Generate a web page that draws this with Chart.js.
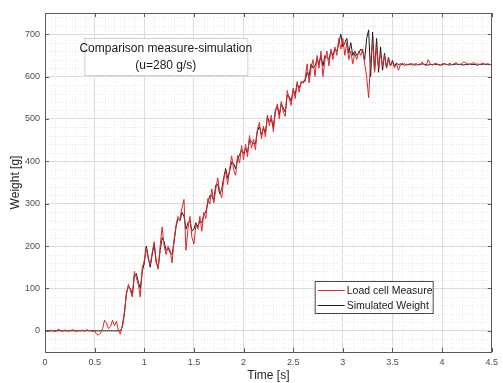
<!DOCTYPE html>
<html>
<head>
<meta charset="utf-8">
<script src="https://cdn.jsdelivr.net/npm/chart.js@4.4.1/dist/chart.umd.min.js"></script>
<style>
html,body{margin:0;padding:0;background:#fff;}
canvas{display:block;}
</style>
</head>
<body>
<canvas id="c" width="503" height="383"></canvas>
<script>
// ---- data ----
const sampleStep = 0.02; // s between samples
const measured = [
 0,1,-1,2,0,-2,1,4,0,-1,2,0,-1,1,3,0,-2,1,0,2,-1,3,0,1,-2,0,
 -8,-10,-5,5,25,18,5,10,25,12,22,0,-8,15,45,
 85,110,95,80,140,125,110,80,150,165,195,170,155,185,210,165,145,200,245,200,
 180,200,190,160,215,250,270,265,290,310,190,240,270,220,205,250,240,270,235,280,
 265,312,299,335,302,334,361,328,314,356,378,345,382,413,380,367,414,396,437,404,
 440,411,461,431,452,427,477,492,453,483,458,509,484,509,470,515,535,500,541,516,
 506,567,547,532,573,548,588,563,589,584,594,630,585,620,640,600,650,620,660,600,
 640,660,625,665,640,670,650,690,665,690,650,680,640,660,630,655,640,660,650,665,
 630,600,550,640,680,610,670,620,655,625,650,620,640,625,635,620,630,615,628,632,
 625,630,627,632,626, 629,631,627,630,634, 628,626,640,630,627, 629,632,628,626,630,
 631,628,629,632,627, 630,633,629,628,631, 635,632,630,628,631, 633,629,630,628,632,
 630,629,631,628,630
];
const simulated = [
 0,0,0,0,0,0,0,0,0,0,0,0,0,0,0,0,0,0,0,0,0,0,0,0,0,0,0,0,0,0,0,0,0,0,0,0,0,0,0,
 10,40,
 90,105,100,85,130,135,115,100,140,160,200,175,150,180,205,160,150,190,220,210,
 190,195,185,180,210,245,265,260,280,270,240,255,260,235,240,255,245,260,255,275,
 280,302,319,320,307,344,346,323,334,361,383,360,377,398,395,382,404,416,427,419,
 430,421,451,446,442,442,472,482,463,478,468,504,494,499,480,520,530,510,536,526,
 516,557,552,542,568,558,583,573,584,589,589,610,600,630,620,625,640,630,650,625,
 650,645,640,660,650,665,660,680,700,670,680,690,655,680,650,660,650,655,665,660,
 640,690,710,600,705,615,690,610,670,615,655,620,645,625,638,625,632,628,630,628,
 630,627,629,628,630, 628,627,629,628,630, 629,628,627,629,628, 630,628,629,627,628,
 630,629,628,627,629, 628,630,628,629,628, 627,629,628,630,628, 629,628,627,629,628,
 630,628,629,628,629
];
const time = measured.map((_, i) => +(i * sampleStep).toFixed(2));
const xTicks = [0, 0.5, 1, 1.5, 2, 2.5, 3, 3.5, 4, 4.5];
const yTicks = [0, 100, 200, 300, 400, 500, 600, 700];
const seriesNames = ['Load cell Measure', 'Simulated Weight'];
const titleLines = ['Comparison measure-simulation', '(u=280 g/s)'];
const xLabel = 'Time [s]';
const yLabel = 'Weight [g]';

const FONT = '"Liberation Sans", Arial, Helvetica, sans-serif';
const RED = '#e3262a';
const BLACK = '#1c1c1c';

const decor = {
  id: 'decor',
  beforeDatasetsDraw(chart) {
    const {ctx, chartArea: a, scales: {x, y}} = chart;
    ctx.save();
    ctx.strokeStyle = '#e6e6e6';
    ctx.lineWidth = 1;
    ctx.setLineDash([1, 2]);
    for (let v = 0; v <= 45; v++) {
      if (v % 5 === 0) continue;
      const px = Math.round(x.getPixelForValue(v / 10)) + 0.5;
      ctx.beginPath(); ctx.moveTo(px, a.top); ctx.lineTo(px, a.bottom); ctx.stroke();
    }
    for (let v = -40; v <= 740; v += 20) {
      if (v % 100 === 0) continue;
      const py = Math.round(y.getPixelForValue(v)) + 0.5;
      ctx.beginPath(); ctx.moveTo(a.left, py); ctx.lineTo(a.right, py); ctx.stroke();
    }
    ctx.restore();
  },
  afterDatasetsDraw(chart) {
    const {ctx, chartArea: a, scales: {x, y}} = chart;
    ctx.save();
    // box
    ctx.strokeStyle = '#5a5a5a';
    ctx.lineWidth = 1;
    ctx.strokeRect(Math.round(a.left) + 0.5, Math.round(a.top) + 0.5, Math.round(a.right - a.left) - 1, Math.round(a.bottom - a.top));
    // inner ticks
    ctx.beginPath();
    xTicks.forEach(v => {
      const px = Math.round(x.getPixelForValue(v)) + 0.5;
      ctx.moveTo(px, a.bottom); ctx.lineTo(px, a.bottom - 4);
      ctx.moveTo(px, a.top); ctx.lineTo(px, a.top + 4);
    });
    yTicks.forEach(v => {
      const py = Math.round(y.getPixelForValue(v)) + 0.5;
      ctx.moveTo(a.left, py); ctx.lineTo(a.left + 4, py);
      ctx.moveTo(a.right, py); ctx.lineTo(a.right - 4, py);
    });
    ctx.stroke();

    // annotation text box
    const bx = a.left + (a.right - a.left) * 0.088, by = a.top + 25;
    const bw = 163, bh = 37;
    ctx.fillStyle = '#ffffff';
    ctx.fillRect(bx, by, bw, bh);
    ctx.strokeStyle = '#d0d0d0';
    ctx.strokeRect(bx + 0.5, by + 0.5, bw, bh);
    ctx.fillStyle = '#1a1a1a';
    ctx.font = '12px ' + FONT;
    ctx.textAlign = 'center';
    ctx.textBaseline = 'middle';
    ctx.fillText(titleLines[0], bx + bw / 2, by + 11);
    ctx.fillText(titleLines[1], bx + bw / 2, by + 28);

    // legend
    const lx = a.left + (a.right - a.left) * 0.597 + 3, ly = a.top + 268;
    const lw = 118, lh = 32;
    ctx.fillStyle = '#ffffff';
    ctx.fillRect(lx, ly, lw, lh);
    ctx.strokeStyle = '#4a4a4a';
    ctx.strokeRect(lx + 0.5, ly + 0.5, lw, lh);
    const colors = [RED, BLACK];
    ctx.font = '10.5px ' + FONT;
    ctx.textAlign = 'left';
    seriesNames.forEach((n, i) => {
      const yy = ly + 9 + i * 15;
      ctx.strokeStyle = colors[i];
      ctx.beginPath(); ctx.moveTo(lx + 3, yy + 0.5); ctx.lineTo(lx + 30, yy + 0.5); ctx.stroke();
      ctx.fillStyle = '#1a1a1a';
      ctx.fillText(n, lx + 32, yy + 1);
    });
    ctx.restore();
  }
};

new Chart(document.getElementById('c'), {
  type: 'line',
  data: {
    datasets: [
      {label: seriesNames[0], data: time.map((t, i) => ({x: t, y: measured[i]})), borderColor: RED, borderWidth: 1, pointRadius: 0, tension: 0, fill: false},
      {label: seriesNames[1], data: time.map((t, i) => ({x: t, y: simulated[i]})), borderColor: BLACK, borderWidth: 1, pointRadius: 0, tension: 0, fill: false}
    ]
  },
  options: {
    responsive: false,
    animation: false,
    layout: {padding: {top: 13, right: 6, left: 0, bottom: 0}},
    plugins: {legend: {display: false}, tooltip: {enabled: false}},
    scales: {
      x: {
        type: 'linear', min: 0, max: 4.5,
        afterBuildTicks(s) { s.ticks = xTicks.map(v => ({value: v})); },
        ticks: {color: '#4d4d4d', font: {family: FONT, size: 9}, padding: 5, maxRotation: 0, autoSkip: false,
          callback: v => String(v)},
        grid: {color: '#dcdcdc', drawTicks: false},
        border: {display: false},
        title: {display: true, text: xLabel, color: '#262626', font: {family: FONT, size: 12}, padding: {top: 0, bottom: 0}},
        afterFit(s) { s.height = 31; }
      },
      y: {
        type: 'linear', min: -50, max: 750,
        afterBuildTicks(s) { s.ticks = yTicks.map(v => ({value: v})); },
        ticks: {color: '#4d4d4d', font: {family: FONT, size: 9}, padding: 5, autoSkip: false},
        grid: {color: '#dcdcdc', drawTicks: false},
        border: {display: false},
        title: {display: true, text: yLabel, color: '#262626', font: {family: FONT, size: 12}, padding: {top: 8, bottom: 0}},
        afterFit(s) { s.width = 45; }
      }
    }
  },
  plugins: [decor]
});
</script>
</body>
</html>
